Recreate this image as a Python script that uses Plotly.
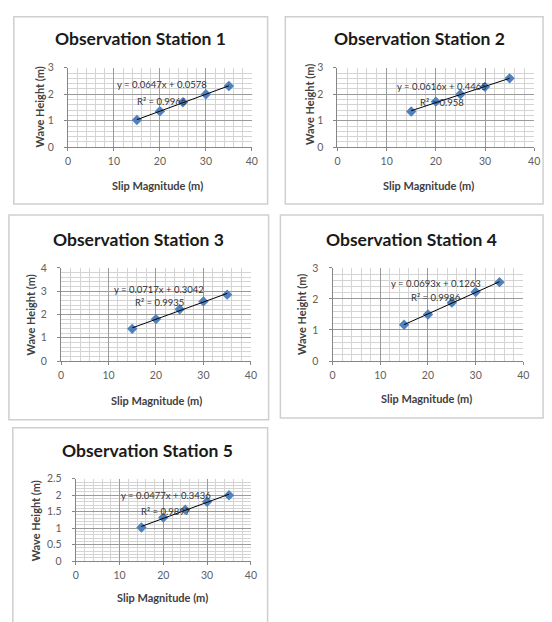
import numpy as np
import plotly.graph_objects as go

# ---------------- data ----------------
slip = [15, 20, 25, 30, 35]
station_names = ["Observation Station 1", "Observation Station 2", "Observation Station 3",
                 "Observation Station 4", "Observation Station 5"]
wave_s1 = [1.03, 1.36, 1.70, 2.00, 2.31]
wave_s2 = [1.35, 1.72, 2.00, 2.28, 2.60]
wave_s3 = [1.38, 1.80, 2.22, 2.56, 2.85]
wave_s4 = [1.17, 1.50, 1.88, 2.22, 2.54]
wave_s5 = [1.02, 1.32, 1.56, 1.80, 2.00]
waves = [wave_s1, wave_s2, wave_s3, wave_s4, wave_s5]
eq_text = ["y = 0.0647x + 0.0578", "y = 0.0616x + 0.4465", "y = 0.0717x + 0.3042",
           "y = 0.0693x + 0.1263", "y = 0.0477x + 0.3436"]
r2_text = ["R² = 0.9966", "R² = 0.958", "R² = 0.9935", "R² = 0.9986", "R² = 0.9897"]
y_max = [3, 3, 4, 3, 2.5]
y_major = [1, 1, 1, 1, 0.5]
y_minor = [0.2, 0.2, 0.2, 0.2, 0.1]
x_range = [0, 40]
x_title = "Slip Magnitude (m)"
y_title = "Wave Height (m)"

# ---------------- layout geometry (pixels) ----------------
W, H = 552, 622
# plot areas: (left, right, top, bottom)
plot_px = [(66, 253, 63, 144), (340, 540, 63, 144), (59, 252, 267, 362),
           (335, 529, 267, 362), (74, 252, 482, 566)]
panel_px = [(11, 269, 11, 202), (287, 549, 11, 202), (6, 270, 213, 422),
            (282, 549, 213, 420), (10, 269, 430, 650)]
title_px = [(140, 33), (423, 33), (138, 238), (415, 238), (147, 453)]
xt_px = [(157, 183), (433, 183), (156, 402), (431, 400), (162, 603)]
yt_px = [(37, 103), (311, 100), (28, 315), (304, 315), (33, 525)]
eq_pos = [(20.5, 2.37, 1.74), (21.2, 2.28, 1.68), (20.7, 3.05, 2.52),
          (21.6, 2.50, 2.06), (20.7, 1.98, 1.50)]

def px(x):
    return x / W

def py(y):
    return 1 - y / H

FONT = "Lato, 'Open Sans', sans-serif"
BLUE = "#4F81BD"

fig = go.Figure()
layout = dict(width=W, height=H, margin=dict(l=0, r=0, t=0, b=0),
              paper_bgcolor="white", plot_bgcolor="white", showlegend=False,
              font=dict(family=FONT, size=10, color="#595959"))
shapes = []
annotations = []

for i in range(5):
    xa = "xaxis" if i == 0 else f"xaxis{i+1}"
    ya = "yaxis" if i == 0 else f"yaxis{i+1}"
    xr = "x" if i == 0 else f"x{i+1}"
    yr = "y" if i == 0 else f"y{i+1}"
    l, r, t, b = plot_px[i]
    layout[xa] = dict(domain=[px(l), px(r)], anchor=yr, range=x_range, dtick=10,
                      showgrid=True, gridcolor="#9A9A9A", gridwidth=1,
                      minor=dict(dtick=2, showgrid=True, gridcolor="#D4D4D4", gridwidth=1),
                      showline=True, linecolor="#868686", linewidth=1,
                      ticks="outside", ticklen=3, tickcolor="#868686",
                      ticklabelstandoff=1,
                      zeroline=False, tickfont=dict(size=10.5, color="#606060"), fixedrange=True)
    layout[ya] = dict(domain=[py(b), py(t)], anchor=xr, range=[0, y_max[i]], dtick=y_major[i],
                      showgrid=True, gridcolor="#9A9A9A", gridwidth=1,
                      minor=dict(dtick=y_minor[i], showgrid=True, gridcolor="#D4D4D4", gridwidth=1),
                      showline=True, linecolor="#868686", linewidth=1,
                      ticks="outside", ticklen=3, tickcolor="#868686",
                      ticklabelstandoff=8,
                      zeroline=False, tickfont=dict(size=10.5, color="#606060"), fixedrange=True)

    # data points
    fig.add_trace(go.Scatter(x=slip, y=waves[i], mode="markers", xaxis=xr, yaxis=yr,
                             marker=dict(symbol="diamond", size=8, color=BLUE,
                                         line=dict(width=0))))
    # linear trendline from data
    k, c = np.polyfit(slip, waves[i], 1)
    xs = [min(slip), max(slip)]
    fig.add_trace(go.Scatter(x=xs, y=[k * v + c for v in xs], mode="lines", xaxis=xr, yaxis=yr,
                             line=dict(color="black", width=1)))

    # panel border
    pl, pr, pt, pb = panel_px[i]
    shapes.append(dict(type="rect", xref="paper", yref="paper", x0=px(pl), x1=px(pr),
                       y0=py(pb), y1=py(pt), line=dict(color="#CFCFCF", width=1.5),
                       fillcolor="rgba(0,0,0,0)", layer="below"))
    # title
    tx, ty = title_px[i]
    annotations.append(dict(text=f"<b>{station_names[i]}</b>", xref="paper", yref="paper",
                            x=px(tx), y=py(ty), showarrow=False, xanchor="center", yanchor="middle",
                            font=dict(family=FONT, size=17.5, color="#1a1a1a")))
    # axis titles
    ax_, ay_ = xt_px[i]
    annotations.append(dict(text=f"<b>{x_title}</b>", xref="paper", yref="paper",
                            x=px(ax_), y=py(ay_), showarrow=False, xanchor="center", yanchor="middle",
                            font=dict(family=FONT, size=11, color="#404040")))
    bx, by = yt_px[i]
    annotations.append(dict(text=f"<b>{y_title}</b>", xref="paper", yref="paper",
                            x=px(bx), y=py(by), showarrow=False, xanchor="center", yanchor="middle",
                            textangle=-90, font=dict(family=FONT, size=11, color="#404040")))
    # equation and R²
    ex, ey1, ey2 = eq_pos[i]
    annotations.append(dict(text=eq_text[i], xref=xr, yref=yr, x=ex, y=ey1, showarrow=False,
                            xanchor="center", yanchor="middle",
                            font=dict(family=FONT, size=9.5, color="#333333")))
    annotations.append(dict(text=r2_text[i], xref=xr, yref=yr, x=ex, y=ey2, showarrow=False,
                            xanchor="center", yanchor="middle",
                            font=dict(family=FONT, size=9.5, color="#333333")))

layout["shapes"] = shapes
layout["annotations"] = annotations
fig.update_layout(**layout)
fig.write_html("out.html", config={"displayModeBar": False},
               post_script="document.body.style.margin='0';")
